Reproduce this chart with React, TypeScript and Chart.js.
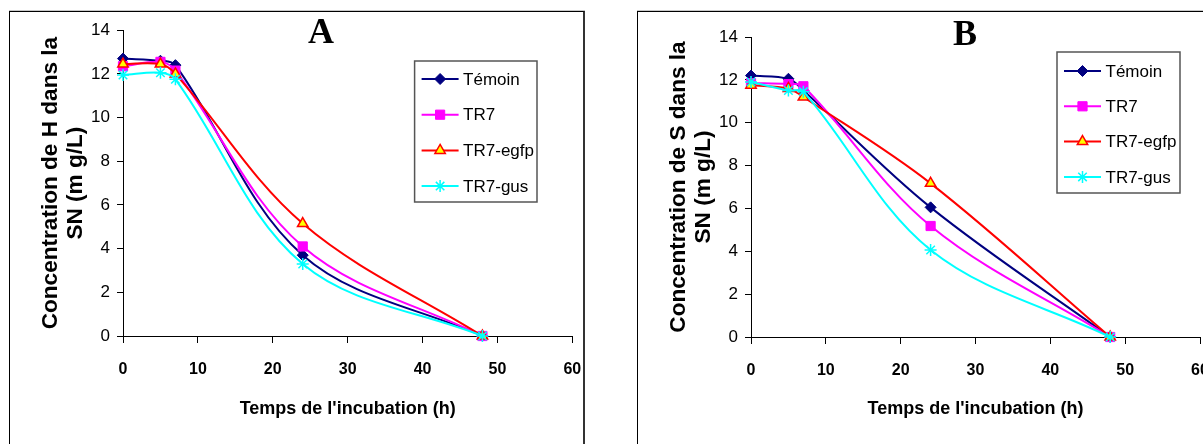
import React, { useEffect, useRef } from 'react';
import { Chart, registerables, PointElement } from 'chart.js';

Chart.register(...registerables);

// ---------- data ----------
const hours = [0, 5, 7, 24, 48];
const seriesNames = ['Témoin', 'TR7', 'TR7-egfp', 'TR7-gus'];

// Panel A : concentration de H
const hTemoin = [12.7, 12.6, 12.4, 3.7, 0];
const hTR7 = [12.35, 12.55, 12.15, 4.1, 0];
const hEgfp = [12.45, 12.45, 12.0, 5.15, 0];
const hGus = [11.95, 12.05, 11.75, 3.3, 0];

// Panel B : concentration de S
const sTemoin = [12.2, 12.05, 11.5, 6.05, 0];
const sTR7 = [11.85, 11.8, 11.7, 5.18, 0];
const sEgfp = [11.75, 11.6, 11.2, 7.17, 0];
const sGus = [11.9, 11.5, 11.45, 4.06, 0];

const xTicks = [0, 10, 20, 30, 40, 50, 60];
const yTicks = [0, 2, 4, 6, 8, 10, 12, 14];
const xTitle = "Temps de l'incubation (h)";
const yTitleA = ['Concentration de H dans la', 'SN (m g/L)'];
const yTitleB = ['Concentration de S dans la', 'SN (m g/L)'];

// ---------- styles ----------
const seriesStyles = [
  { color: '#000080', pointStyle: 'rectRot', radius: 5.5, bg: '#000080', bw: 1 },
  { color: '#FF00FF', pointStyle: 'rect', radius: 6.5, bg: '#FF00FF', bw: 1 },
  { color: '#FF0000', pointStyle: 'triangle', radius: 6, bg: '#FFFF00', bw: 1.5 },
  { color: '#00FFFF', pointStyle: 'star', radius: 6, bg: '#00FFFF', bw: 1.5 },
];

const SANS = '"Liberation Sans", Arial, Helvetica, sans-serif';

function narrowAvailable(): boolean {
  try {
    const c = document.createElement('canvas').getContext('2d');
    if (!c) return false;
    const t = 'TR7-egfp Témoin 1234';
    c.font = '20px monospace';
    const a = c.measureText(t).width;
    c.font = '20px "Liberation Sans Narrow", monospace';
    const b = c.measureText(t).width;
    return Math.abs(a - b) > 1;
  } catch (e) {
    return false;
  }
}

const decoPlugin = {
  id: 'deco',
  afterDraw(chart: any, _args: any, opts: any) {
    const ctx: CanvasRenderingContext2D = chart.ctx;
    ctx.save();
    // panel letter
    ctx.font = 'bold 36px "Liberation Serif", "Times New Roman", serif';
    ctx.fillStyle = '#000';
    ctx.textAlign = 'center';
    ctx.textBaseline = 'alphabetic';
    ctx.fillText(opts.letter, opts.letterX, opts.letterY);

    // legend
    const L = opts.legend;
    ctx.fillStyle = '#fff';
    ctx.fillRect(L.x, L.y, L.w, L.h);
    ctx.strokeStyle = '#555';
    ctx.lineWidth = 1.5;
    ctx.strokeRect(L.x, L.y, L.w, L.h);
    const area = { left: -1e4, top: -1e4, right: 1e4, bottom: 1e4 };
    chart.data.datasets.forEach((ds: any, i: number) => {
      const cy = L.y + L.rowTop + i * L.gap;
      ctx.strokeStyle = ds.borderColor;
      ctx.lineWidth = 2;
      ctx.beginPath();
      ctx.moveTo(L.x + 7, cy);
      ctx.lineTo(L.x + 44, cy);
      ctx.stroke();
      const pt: any = new (PointElement as any)({
        x: L.x + 25.5,
        y: cy,
        options: {
          pointStyle: ds.pointStyle,
          radius: ds.pointRadius,
          rotation: 0,
          backgroundColor: ds.pointBackgroundColor,
          borderColor: ds.pointBorderColor,
          borderWidth: ds.pointBorderWidth,
        },
      });
      pt.draw(ctx, area);
      ctx.fillStyle = '#000';
      ctx.font = opts.legendFont;
      ctx.textAlign = 'left';
      ctx.textBaseline = 'middle';
      ctx.fillText(ds.label, L.x + 48.5, cy + 1);
    });
    ctx.restore();
  },
};

type PanelProps = {
  left: number;
  letter: string;
  letterX: number;
  letterY: number;
  yTitle: string[];
  series: number[][];
  plotTop: number;
  plotRight: number;
  axisBottom: number;
  legend: { x: number; y: number; w: number; h: number; rowTop: number; gap: number };
};

const CW = 600;
const CH = 444;

function Panel(p: PanelProps) {
  const ref = useRef<HTMLCanvasElement>(null);
  useEffect(() => {
    const canvas = ref.current;
    if (!canvas) return;
    const narrow = narrowAvailable();
    const legendFont = narrow ? '20px "Liberation Sans Narrow"' : `17px ${SANS}`;
    const yTickFont = narrow
      ? { family: '"Liberation Sans Narrow"', size: 19 }
      : { family: SANS, size: 17 };

    const chart = new Chart(canvas, {
      type: 'line',
      data: {
        datasets: p.series.map((vals, i) => {
          const st = seriesStyles[i];
          return {
            label: seriesNames[i],
            data: hours.map((h, j) => ({ x: h, y: vals[j] })),
            borderColor: st.color,
            backgroundColor: st.bg,
            borderWidth: 2,
            tension: 0.35,
            fill: false,
            clip: false,
            pointStyle: st.pointStyle as any,
            pointRadius: st.radius,
            pointBackgroundColor: st.bg,
            pointBorderColor: st.color,
            pointBorderWidth: st.bw,
            order: 4 - i,
          } as any;
        }),
      },
      options: {
        responsive: false,
        animation: false,
        devicePixelRatio: 1,
        events: [],
        layout: { padding: { left: 0, top: p.plotTop, right: CW - p.plotRight, bottom: 0 } },
        plugins: {
          legend: { display: false },
          tooltip: { enabled: false },
          title: { display: false },
          deco: {
            letter: p.letter,
            letterX: p.letterX,
            letterY: p.letterY,
            legend: p.legend,
            legendFont,
          },
        } as any,
        scales: {
          x: {
            type: 'linear',
            min: 0,
            max: 60,
            afterFit: (s: any) => {
              s.height = CH - p.axisBottom;
            },
            afterBuildTicks: (s: any) => {
              s.ticks = xTicks.map((v) => ({ value: v }));
            },
            ticks: {
              color: '#000',
              padding: 17,
              maxRotation: 0,
              font: { family: SANS, size: 16, weight: 'bold' },
            },
            grid: { drawOnChartArea: false, drawTicks: true, tickLength: 7, color: '#000', lineWidth: 1 },
            border: { display: true, color: '#000', width: 1 },
            title: {
              display: true,
              text: xTitle,
              color: '#000',
              font: { family: SANS, size: 18, weight: 'bold', lineHeight: 1.2 },
              padding: { top: 0, bottom: 24 },
            },
          },
          y: {
            type: 'linear',
            min: 0,
            max: 14,
            afterFit: (s: any) => {
              s.width = 123;
            },
            afterBuildTicks: (s: any) => {
              s.ticks = yTicks.map((v) => ({ value: v }));
            },
            ticks: { color: '#000', padding: 7, font: yTickFont as any },
            grid: { drawOnChartArea: false, drawTicks: true, tickLength: 6, color: '#000', lineWidth: 1 },
            border: { display: true, color: '#000', width: 1 },
            title: {
              display: true,
              text: p.yTitle,
              color: '#000',
              font: { family: SANS, size: 22.6, weight: 'bold', lineHeight: 25 / 22.6 },
              padding: { top: 38.5, bottom: 0 },
            },
          },
        },
      } as any,
      plugins: [decoPlugin as any],
    });
    return () => chart.destroy();
  }, []);
  return (
    <canvas
      ref={ref}
      width={CW}
      height={CH}
      style={{ position: 'absolute', left: p.left, top: 0, width: CW, height: CH }}
    />
  );
}

export default function App() {
  return (
    <div
      style={{
        position: 'absolute',
        left: 0,
        top: 0,
        width: 1203,
        height: 444,
        overflow: 'hidden',
        background: '#fff',
      }}
    >
      <div
        style={{
          position: 'absolute',
          left: 9,
          top: 11,
          width: 573,
          height: 460,
          borderLeft: '1px solid #000',
          borderTop: '1px solid #000',
          borderRight: '2px solid #333',
          boxShadow: '0 -1px 0 #c8c8c8',
        }}
      />
      <div
        style={{
          position: 'absolute',
          left: 637,
          top: 11,
          width: 700,
          height: 460,
          borderLeft: '1px solid #000',
          borderTop: '1px solid #000',
          boxShadow: '0 -1px 0 #c8c8c8',
        }}
      />
      <Panel
        left={0}
        letter="A"
        letterX={321}
        letterY={43}
        yTitle={yTitleA}
        series={[hTemoin, hTR7, hEgfp, hGus]}
        plotTop={30.2}
        plotRight={572.3}
        axisBottom={336}
        legend={{ x: 414.6, y: 61, w: 122.4, h: 141, rowTop: 18, gap: 35.7 }}
      />
      <Panel
        left={628}
        letter="B"
        letterX={337}
        letterY={45}
        yTitle={yTitleB}
        series={[sTemoin, sTR7, sEgfp, sGus]}
        plotTop={37}
        plotRight={572}
        axisBottom={337}
        legend={{ x: 429, y: 52, w: 123, h: 141, rowTop: 19, gap: 35.3 }}
      />
    </div>
  );
}
